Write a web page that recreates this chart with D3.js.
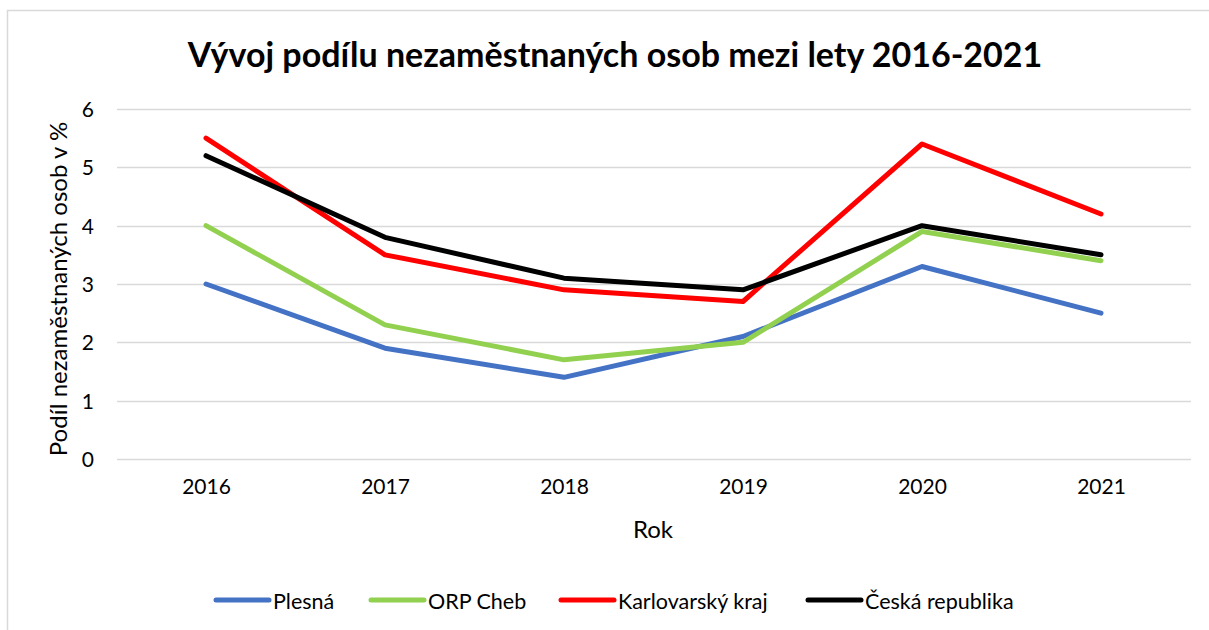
<!DOCTYPE html>
<html><head><meta charset="utf-8">
<script src="https://cdn.jsdelivr.net/npm/d3@7"></script>
<style>body{margin:0;background:#fff}svg{display:block}</style>
</head><body>
<script>
const years = ["2016","2017","2018","2019","2020","2021"];
const plesna = [3.0, 1.9, 1.4, 2.1, 3.3, 2.5];
const orpCheb = [4.0, 2.3, 1.7, 2.0, 3.9, 3.4];
const karlovarsky = [5.5, 3.5, 2.9, 2.7, 5.4, 4.2];
const cr = [5.2, 3.8, 3.1, 2.9, 4.0, 3.5];
const seriesNames = ["Plesná", "ORP Cheb", "Karlovarský kraj", "Česká republika"];
const seriesColors = ["#4472c4", "#92d050", "#ff0000", "#000000"];
const yTicks = [0,1,2,3,4,5,6];
const title = "Vývoj podílu nezaměstnaných osob mezi lety 2016-2021";

const W = 1209, H = 630;
const font = "Lato, 'Open Sans', sans-serif";
const svg = d3.select("body").append("svg").attr("width", W).attr("height", H);
svg.append("rect").attr("x",7.5).attr("y",10.5).attr("width",1400).attr("height",800)
  .attr("fill","#fff").attr("stroke","#d9d9d9").attr("stroke-width",1.5);

const x = d3.scalePoint().domain(years).range([206, 1101]);
const y = d3.scaleLinear().domain([0,6]).range([459, 109]);
const left = 117, right = 1191;

// gridlines
svg.append("g").selectAll("line").data(yTicks).join("line")
  .attr("x1", left).attr("x2", right)
  .attr("y1", d => Math.round(y(d))+0.5).attr("y2", d => Math.round(y(d))+0.5)
  .attr("stroke","#d9d9d9").attr("stroke-width",1.5);

// y axis labels
const yAxis = d3.axisLeft(y).tickValues(yTicks).tickSize(0).tickPadding(0).tickFormat(d3.format("d"));
const gy = svg.append("g").attr("transform", `translate(94,0)`).call(yAxis);
gy.select(".domain").remove();
gy.selectAll("text").attr("font-family", font).attr("font-size", 21).attr("fill","#000").attr("dy","0.35em");

// x axis labels
const xAxis = d3.axisBottom(x).tickSize(0).tickPadding(0);
const gx = svg.append("g").attr("transform", `translate(0,479)`).call(xAxis);
gx.select(".domain").remove();
gx.selectAll("text").attr("font-family", font).attr("font-size", 21).attr("fill","#000").attr("dy","0.71em");

// title
svg.append("text").attr("x", 615).attr("y", 67).attr("text-anchor","middle")
  .attr("font-family", font).attr("font-weight","bold").attr("font-size", 34).attr("fill","#000")
  .text(title);

// axis titles
svg.append("text").attr("x", 653).attr("y", 538).attr("text-anchor","middle")
  .attr("font-family", font).attr("font-size", 24).attr("fill","#000").text("Rok");
svg.append("text").attr("transform","translate(67,289) rotate(-90)").attr("text-anchor","middle")
  .attr("font-family", font).attr("font-size", 24).attr("fill","#000").text("Podíl nezaměstnaných osob v %");

// lines
const data = [plesna, orpCheb, karlovarsky, cr];
const line = d3.line().x((d,i) => x(years[i])).y(d => y(d));
svg.append("g").selectAll("path").data(data).join("path")
  .attr("d", line).attr("fill","none")
  .attr("stroke", (d,i) => seriesColors[i]).attr("stroke-width", 5)
  .attr("stroke-linejoin","round").attr("stroke-linecap","round");

// legend
const legendX = [216, 371, 561, 808];
const lg = svg.append("g").selectAll("g").data(seriesNames).join("g")
  .attr("transform", (d,i) => `translate(${legendX[i]},600)`);
lg.append("line").attr("x1",0).attr("x2",53).attr("y1",0).attr("y2",0)
  .attr("stroke",(d,i)=>seriesColors[i]).attr("stroke-width",5).attr("stroke-linecap","round");
lg.append("text").attr("x",57).attr("y",1).attr("dy","0.35em")
  .attr("font-family", font).attr("font-size", 21.5).attr("fill","#000").text(d => d);
</script>
</body></html>
